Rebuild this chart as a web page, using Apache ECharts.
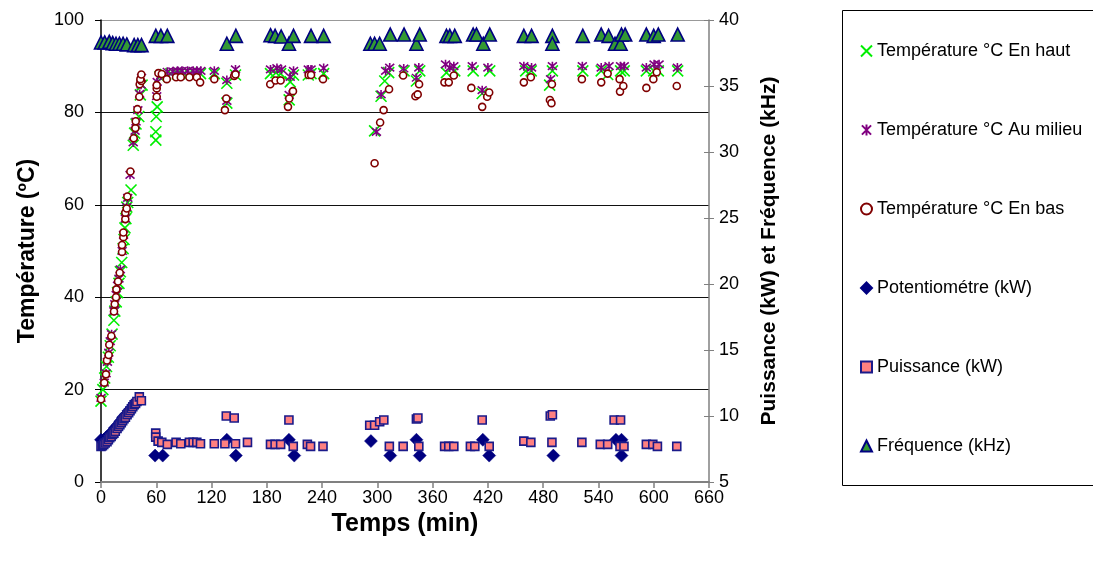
<!DOCTYPE html>
<html>
<head>
<meta charset="utf-8">
<script src="https://cdn.jsdelivr.net/npm/echarts@6/dist/echarts.min.js"></script>
<style>html,body{margin:0;padding:0;background:#fff}#c{width:1093px;height:569px}</style>
</head>
<body>
<div id="c"></div>
<script>
// ---- data: [time (min), value] ----
const seriesNames = ['Température °C En haut','Température °C Au milieu','Température °C En bas','Potentiométre (kW)','Puissance (kW)','Fréquence (kHz)'];
const xTicks = [0,60,120,180,240,300,360,420,480,540,600,660];
const leftTicks = [0,20,40,60,80,100];
const rightTicks = [5,10,15,20,25,30,35,40];

const tempHaut = [[0,17.5],[2,20],[4,22.5],[6,25],[8,27],[10,29.5],[12,32],[14,35],[15,37],[16.5,39],[18,41],[19.5,43],[21,45.5],[22.5,47.5],[24,50.5],[25,52.5],[26,55],[27,57],[28,59.5],[29,60.5],[32.6,63.2],[35,72.9],[36.5,75.5],[38,77.5],[41,79.1],[42.7,83.8],[44.6,85.9],
[59.5,74.0],[59.5,75.8],[60,79.1],[61,81.2],[64,87.7],[70,88.2],[76,88.4],[83,88.4],[90,88.4],[96,88.4],[102,88.4],[108,88.4],[123,88.4],[136.6,82.0],[136.6,86.3],[146,88.1],[184,88.4],[190,88.6],[195,88.4],[204.3,82.7],[205.4,86.6],[209,88.1],[225,88.1],[228,88.4],[241.7,88.4],
[297,76],[304,83.5],[308,86.8],[312.3,88.6],[329,89.0],[342.4,86.8],[346,89.0],[375,88.6],[384,89.0],[404,89.0],[413.8,84.1],[422,89.0],[461,89.0],[467,89.0],[487,85.9],[490,89.0],[523,89.0],[543,89.0],[550,88.2],[564,89.0],[568,89.0],[592,89.0],[600,89.0],[605,89.0],[626,89.0]];

const tempMilieu = [[0,18.2],[3.5,21.5],[5.5,23.5],[7,26],[8.5,28],[10,30.5],[11.5,32],[14,37],[15,38.5],[16.5,40.5],[18,42.5],[19.5,44],[21,46],[23,50],[24.5,53.5],[26.5,57],[28,59.5],[29,61.5],[31.5,66.5],[35,73.5],[37,76],[38,78],[40,80.5],[42,84],[43.5,86],[44,87.5],
[60.5,83.5],[61,86.6],[65,88.0],[72,88.8],[78,88.9],[83,89.0],[88,89.0],[94,89.0],[100,89.0],[104,89.0],[108.4,89.0],[123,89.0],[136.6,82.5],[136.6,87.0],[146,89.3],[184,89.3],[191,89.6],[196,89.3],[204.3,83.8],[205.4,87.7],[209,89.0],[225,89.3],[228,89.3],[241.7,89.6],
[299,75.8],[304,83.9],[309,89.0],[313.4,89.7],[328.6,89.5],[342.4,87.5],[345,89.7],[374,90.4],[378.6,89.7],[383,90.0],[403,90.0],[413.8,84.8],[420,89.7],[459,90.0],[467.4,89.7],[488,87.2],[490,90.0],[522.5,90.0],[543,89.7],[551.5,90.0],[564,90.0],[568,90.0],[592,89.7],[600.4,90.4],[605.8,90.4],[625.7,89.7]];

const tempBas = [[0,17.9],[3.6,21.5],[5.4,23.3],[6.5,26.3],[8.3,27.5],[9,29.7],[11.2,31.6],[14.1,36.9],[14.9,38.5],[16.3,40.0],[16.7,41.7],[18.5,43.4],[20.3,45.3],[22.8,49.8],[22.8,51.3],[24.3,53.0],[24.3,54.0],[26.4,56.9],[26.4,58.3],[27.9,59.2],[28.6,61.8],[31.9,67.2],[35.5,74.4],[37.3,76.6],[37.7,78.1],[39.5,80.7],[41.6,83.4],[42,86.1],[43.8,86.8],[42.7,87.2],[43.8,88.2],
[60.5,83.4],[60.5,85.2],[60.5,85.9],[62.3,88.5],[66,88.3],[71.4,87.2],[81.5,87.6],[86.6,87.6],[96,87.6],[104,87.6],[107.6,86.5],[123,87.2],[134.5,80.5],[136,83.0],[144.6,87.9],[146,88.2],[183.7,86.1],[189.5,86.9],[195,86.9],[203,81.2],[204.3,83.0],[208.4,84.6],[225.4,88.1],[228,88.1],[241,87.2],
[297,69.0],[303,77.8],[306.8,80.5],[312.7,85.0],[328,88.0],[341.3,83.5],[343.8,83.9],[345.3,86.1],[372.8,86.5],[377.5,86.5],[383,88.0],[402,85.3],[413.8,81.2],[419.2,83.4],[421.4,84.3],[459,86.5],[466.6,87.6],[487.3,82.7],[489,82.0],[489.5,86.1],[522,87.2],[543,86.5],[550,88.4],[563,87.2],[563.4,84.5],[567,85.7],[592,85.3],[599.6,87.2],[603.3,88.7],[625,85.7]];

const potentiometre = [[0,8.2],[3,8.2],[6,8.4],[9,8.6],[12,8.8],[15,9.1],[18,9.3],[21,9.6],[24,9.9],[27,10.1],[30,10.4],[33,10.6],[36,10.9],[39,11.1],
[58.7,7.0],[67,7.0],[136.6,8.2],[146.4,7.0],[204,8.2],[209.8,7.0],[293,8.1],[314,7.0],[342.4,8.2],[346,7.0],[414.5,8.2],[421.4,7.0],[491,7.0],[559,8.2],[565,8.2],[565,7.0]];

const puissance = [[0,7.7],[1.5,7.75],[3,7.85],[4.5,7.95],[6.5,8.05],[8,8.2],[9.5,8.35],[11,8.45],[12.5,8.6],[14,8.7],[15.5,8.85],[17.4,9.05],[19,9.2],[20.5,9.35],[22,9.5],[23.5,9.65],[25,9.8],[26.5,9.9],[28.3,10.1],[30,10.25],[31.5,10.4],[33,10.55],[34.5,10.7],[36,10.85],[37.5,10.95],[39,11.1],[41.6,11.45],[43.8,11.15],
[59.4,8.7],[59.4,8.4],[62,8.1],[66,8.0],[72,7.85],[81.5,8.0],[86.6,7.9],[96,8.0],[100,8.0],[104,8.0],[108,7.9],[123,7.9],[134.5,7.9],[136,10.0],[144.6,9.85],[146,7.9],[159,8.0],[184,7.85],[189,7.85],[195,7.85],[204,9.7],[208.7,7.7],[224,7.85],[227.5,7.7],[241,7.7],
[291.7,9.3],[297,9.3],[302.5,9.57],[307,9.7],[313,7.7],[328,7.7],[342.4,9.77],[344,9.85],[345,7.7],[373,7.7],[377.5,7.7],[383,7.7],[401,7.7],[405.8,7.7],[413.8,9.7],[421.4,7.7],[459,8.1],[466.6,8.0],[487.7,10.0],[490,10.1],[489.5,8.0],[522,8.0],[542,7.85],[550,7.85],[557,9.7],[564,9.7],[563.4,7.7],[567.7,7.7],[592,7.85],[599,7.85],[604,7.7],[625,7.7]];

const frequence = [[0,38.3],[4,38.3],[9,38.35],[12.7,38.25],[16.3,38.2],[20,38.2],[24,38.2],[28,38.15],[36,38.1],[40,38.1],[44,38.1],[59.5,38.8],[65,38.8],[72,38.8],[136.6,38.2],[146.4,38.8],[184,38.85],[189,38.8],[195.6,38.75],[204,38.2],[209,38.8],[228,38.8],[241.7,38.8],
[292.4,38.2],[297,38.2],[302.5,38.2],[314,38.9],[329,38.9],[342.4,38.2],[346,38.9],[375,38.8],[378.6,38.8],[384,38.8],[404,38.9],[407.6,38.9],[415,38.2],[422,38.9],[459,38.8],[467.4,38.8],[490,38.8],[490,38.2],[523,38.8],[543,38.9],[551,38.8],[558,38.2],[564,38.2],[565,38.9],[569,38.9],[592,38.9],[600,38.8],[605,38.9],[626,38.9]];

// ---- chart ----
const FONT = 'Liberation Sans, Arial, sans-serif';
const X_PATH = 'path://M0,0L10,10M10,0L0,10';
const STAR_PATH = 'path://M0,0L10,10M10,0L0,10M5,-1L5,11';
const chart = echarts.init(document.getElementById('c'), null, {renderer:'canvas'});

const axisLbl = {fontFamily: FONT, fontSize: 18, color: '#000'};
const option = {
  animation: false,
  backgroundColor: '#fff',
  grid: {left: 101, right: 384, top: 20, bottom: 87, containLabel: false},
  graphic: [{type:'rect', z: 0, shape:{x: 842.5, y: 10.5, width: 280, height: 475}, style:{fill:'#fff', stroke:'#000', lineWidth: 1}}],
  legend: {
    orient: 'vertical', left: 860, top: 42, padding: 0, itemGap: 61,
    itemWidth: 11, itemHeight: 11, z: 5,
    textStyle: {fontFamily: FONT, fontSize: 18, color: '#000'},
    data: [
      {name: seriesNames[0], icon: X_PATH},
      {name: seriesNames[1], icon: STAR_PATH},
      {name: seriesNames[2], icon: 'circle'},
      {name: seriesNames[3], icon: 'diamond'},
      {name: seriesNames[4], icon: 'rect'},
      {name: seriesNames[5], icon: 'triangle'}
    ]
  },
  xAxis: {
    type: 'value', min: xTicks[0], max: xTicks[xTicks.length-1], interval: 60,
    name: 'Temps (min)', nameLocation: 'middle', nameGap: 27,
    nameTextStyle: {fontFamily: FONT, fontSize: 25, fontWeight: 'bold', color: '#000'},
    axisLine: {lineStyle: {color: '#808080', width: 2}},
    axisTick: {show: true, length: 6, lineStyle: {color: '#808080', width: 1.5}},
    axisLabel: Object.assign({margin: 7}, axisLbl),
    splitLine: {show: false}
  },
  yAxis: [
    {
      type: 'value', position: 'left', min: leftTicks[0], max: leftTicks[leftTicks.length-1], interval: 20,
      name: 'Température (ºC)', nameLocation: 'middle', nameGap: 62,
      nameTextStyle: {fontFamily: FONT, fontSize: 23, fontWeight: 'bold', color: '#000'},
      axisLine: {show: true, lineStyle: {color: '#000', width: 1.5}},
      axisTick: {show: true, length: 6, lineStyle: {color: '#000'}},
      axisLabel: Object.assign({margin: 17}, axisLbl),
      splitLine: {show: true, lineStyle: {color: ['#808080','#111','#111','#111','#111','#999'], width: 1.2}}
    },
    {
      type: 'value', position: 'right', min: rightTicks[0], max: rightTicks[rightTicks.length-1], interval: 5,
      name: 'Puissance (kW) et Fréquence (kHz)', nameLocation: 'middle', nameGap: 50,
      nameTextStyle: {fontFamily: FONT, fontSize: 21, fontWeight: 'bold', color: '#000'},
      axisLine: {show: true, lineStyle: {color: '#808080', width: 1.5}},
      axisTick: {show: true, length: 5, lineStyle: {color: '#808080'}},
      axisLabel: Object.assign({margin: 10}, axisLbl),
      splitLine: {show: false}
    },
    {
      type: 'value', position: 'right', min: rightTicks[0], max: rightTicks[rightTicks.length-1], interval: 5,
      axisLine: {show: false},
      axisTick: {show: true, inside: true, length: 5, lineStyle: {color: '#808080'}},
      axisLabel: {show: false},
      splitLine: {show: false}
    }
  ],
  series: [
    {name: seriesNames[0], type: 'scatter', yAxisIndex: 0, data: tempHaut, symbol: X_PATH, symbolSize: 11,
     itemStyle: {color: 'rgba(0,0,0,0)', borderColor: '#00ee00', borderWidth: 1.6, opacity: 1}},
    {name: seriesNames[1], type: 'scatter', yAxisIndex: 0, data: tempMilieu, symbol: STAR_PATH, symbolSize: 9,
     itemStyle: {color: 'rgba(0,0,0,0)', borderColor: '#800080', borderWidth: 1.6, opacity: 1}},
    {name: seriesNames[2], type: 'scatter', yAxisIndex: 0, data: tempBas, symbol: 'circle', symbolSize: 7,
     itemStyle: {color: '#fff', borderColor: '#800000', borderWidth: 1.6, opacity: 1}},
    {name: seriesNames[3], type: 'scatter', yAxisIndex: 1, data: potentiometre, symbol: 'diamond', symbolSize: 13,
     itemStyle: {color: '#000080', borderColor: '#000080', borderWidth: 0.5, opacity: 1}},
    {name: seriesNames[4], type: 'scatter', yAxisIndex: 1, data: puissance, symbol: 'rect', symbolSize: 8,
     itemStyle: {color: '#ff8080', borderColor: '#1a1a8a', borderWidth: 1.6, opacity: 1}},
    {name: seriesNames[5], type: 'scatter', yAxisIndex: 1, data: frequence, symbol: 'triangle', symbolSize: 13,
     itemStyle: {color: '#339933', borderColor: '#000080', borderWidth: 1.6, opacity: 1}}
  ]
};
chart.setOption(option);
</script>
</body>
</html>
